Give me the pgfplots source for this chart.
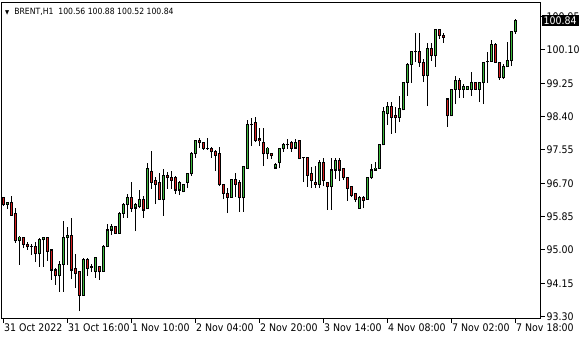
\documentclass[border=0pt]{standalone}
\usepackage{fontspec}
\setmainfont{DejaVu Sans}[FakeStretch=0.9]
\usepackage{pgfplots}
\pgfplotsset{compat=1.18}
\usepackage{pgfplotstable}
\definecolor{bull}{RGB}{60,185,60}
\definecolor{bear}{RGB}{215,30,30}

\pgfplotstableread{
k o h l c
0 96.33 96.35 96.12 96.15
1 96.17 96.23 96.05 96.22
2 96.20 96.38 95.87 95.89
3 95.94 96.07 95.18 95.23
4 95.23 95.36 94.62 95.33
5 95.33 95.34 95.05 95.15
6 95.15 95.20 95.00 95.08
7 95.10 95.15 94.87 95.09
8 95.08 95.20 94.69 94.90
9 94.90 95.31 94.57 95.28
10 95.26 95.33 94.57 95.31
11 95.31 95.33 94.72 94.97
12 95.00 95.01 94.24 94.49
13 94.49 94.54 94.11 94.34
14 94.34 94.72 93.93 94.64
15 94.64 95.74 93.93 95.31
16 95.31 95.59 94.62 95.38
17 95.38 95.82 94.26 94.49
18 94.52 94.90 94.03 94.41
19 94.44 94.45 93.44 93.85
20 93.85 94.80 93.84 94.77
21 94.77 94.80 94.34 94.54
22 94.57 94.64 94.44 94.56
23 94.46 94.82 94.29 94.80
24 94.57 94.58 94.24 94.44
25 94.46 95.13 94.45 95.10
26 95.10 95.66 95.08 95.51
27 95.51 95.66 95.38 95.59
28 95.59 95.60 95.41 95.43
29 95.43 95.97 95.42 95.94
30 95.94 96.20 95.82 96.17
31 96.17 96.43 95.82 96.35
32 96.33 96.73 95.97 96.07
33 96.07 96.20 95.48 96.15
34 96.10 96.53 96.07 96.30
35 96.30 96.38 95.82 96.02
36 96.05 97.22 96.04 97.07
37 97.01 97.52 96.56 96.73
38 96.76 96.86 96.17 96.68
39 96.71 96.96 96.27 96.30
40 96.30 97.07 95.87 96.91
41 96.91 96.99 96.56 96.84
42 96.86 97.01 96.56 96.78
43 96.84 96.89 96.43 96.53
44 96.53 96.76 96.40 96.73
45 96.48 96.68 96.47 96.66
46 96.73 96.96 96.58 96.94
47 96.94 97.50 96.89 97.45
48 97.45 97.81 97.35 97.80
49 97.80 97.86 97.60 97.73
50 97.75 97.76 97.55 97.60
51 97.60 97.86 97.55 97.58
52 97.58 97.63 97.35 97.50
53 97.52 97.55 97.01 97.42
54 97.45 97.63 96.63 96.66
55 96.66 96.67 96.30 96.45
56 96.45 96.58 95.94 96.35
57 96.35 96.82 96.34 96.81
58 96.81 96.96 96.35 96.68
59 96.71 96.78 95.97 96.33
60 96.33 97.14 95.97 97.12
61 97.09 98.31 97.08 98.21
62 98.21 98.37 97.65 98.19
63 98.24 98.39 97.75 97.80
64 97.83 98.11 97.65 97.78
65 97.75 98.11 97.14 97.45
66 97.45 97.63 97.32 97.60
67 97.47 97.48 97.32 97.40
68 97.09 97.22 97.08 97.19
69 97.22 97.60 97.09 97.58
70 97.58 97.73 97.50 97.70
71 97.68 97.83 97.58 97.70
72 97.73 97.78 97.50 97.60
73 97.60 97.83 97.58 97.75
74 97.78 97.79 97.32 97.33
75 97.35 97.37 96.73 97.35
76 97.35 97.37 96.61 96.91
77 96.94 97.12 96.58 96.76
78 96.73 97.14 96.58 96.68
79 96.68 97.30 96.58 97.22
80 97.22 97.35 96.63 96.76
81 96.73 96.74 96.02 96.61
82 96.61 97.35 96.02 97.04
83 97.04 97.35 96.81 97.27
84 97.27 97.35 96.76 97.04
85 97.07 97.08 96.78 96.84
86 96.84 96.85 96.25 96.58
87 96.61 96.63 96.35 96.40
88 96.43 96.45 96.22 96.30
89 96.07 96.38 96.05 96.33
90 96.33 96.38 96.07 96.27
91 96.30 96.87 96.29 96.86
92 96.84 97.19 96.81 97.04
93 97.04 97.24 97.03 97.09
94 97.09 97.69 97.07 97.68
95 97.68 98.65 97.67 98.52
96 98.47 98.77 98.19 98.65
97 98.65 98.77 97.96 98.39
98 98.42 98.65 97.98 98.37
99 98.37 98.93 98.26 98.60
100 98.57 99.29 98.56 99.28
101 99.28 99.77 98.93 99.74
102 99.72 100.07 99.26 100.05
103 100.05 100.53 99.79 100.07
104 100.05 100.53 99.67 99.77
105 99.77 99.87 99.28 99.44
106 99.44 100.28 98.67 100.15
107 100.15 100.28 99.82 99.95
108 99.95 100.64 99.67 100.61
109 100.61 100.64 100.38 100.46
110 100.48 100.53 100.28 100.43
111 98.85 98.86 98.14 98.42
112 98.42 99.11 98.41 99.10
113 99.10 99.44 98.72 99.31
114 99.31 99.39 98.88 99.10
115 99.10 99.23 98.88 99.16
116 99.10 99.19 99.08 99.16
117 99.10 99.54 98.93 99.26
118 99.26 99.29 99.08 99.10
119 99.10 99.27 98.77 99.26
120 99.26 99.80 98.72 99.79
121 99.80 100.05 99.26 99.81
122 99.81 100.36 99.80 100.23
123 100.25 100.28 99.77 99.79
124 99.79 99.80 99.34 99.39
125 99.39 99.74 99.36 99.67
126 99.67 100.30 99.66 99.82
127 99.82 100.57 99.69 100.56
128 100.56 100.88 100.52 100.84
}\candles

% body length without the outline, and a 1/0 flag for rising candles (only abs is used)
\pgfmathdeclarefunction{inner}{2}{\pgfmathparse{(abs(#2-#1)-0.026+abs(abs(#2-#1)-0.026))/2}}
\pgfmathdeclarefunction{rising}{2}{\pgfmathparse{(#2-#1+abs(#2-#1))/(2*abs(#2-#1)+0.000001)}}

\begin{document}
\begin{tikzpicture}[x=1bp,y=1bp]
\useasboundingbox (0,0) rectangle (580,340);
\begin{axis}[
  at={(1.5bp,21.5bp)}, anchor=south west,
  scale only axis, width=539bp, height=316bp,
  xmin=-0.5, xmax=134.25, ymin=93.253, ymax=101.311,
  axis line style={line width=1bp, black},
  clip mode=individual,
  xtick={0,16,...,128},
  xticklabels={31 Oct 2022,31 Oct 16:00,1 Nov 10:00,2 Nov 04:00,2 Nov 20:00,3 Nov 14:00,4 Nov 08:00,7 Nov 02:00,7 Nov 18:00},
  xtick pos=bottom, ytick pos=right, yticklabel pos=right,
  ytick={93.30,94.15,95.00,95.85,96.70,97.55,98.40,99.25,100.10,100.95},
  /pgf/number format/fixed,
  /pgf/number format/fixed zerofill,
  /pgf/number format/precision=2,
  /pgf/number format/1000 sep={},
  /pgf/number format/assume math mode=true,
  tick align=outside, major tick length=4bp,
  tick style={black, line width=1bp},
  ticklabel style={font=\fontsize{10.5}{12}\selectfont},
  xticklabel style={anchor=north west, inner xsep=0.5bp, inner ysep=1.5bp},
  yticklabel style={anchor=west, inner xsep=2bp},
]
% wicks
\addplot[black, line width=1bp, -, quiver={u=0, v=\thisrow{h}-\thisrow{l}}]
  table[x=k, y=l] {\candles};
% body outlines
\addplot[black, line width=3bp, -, quiver={u=0, v={abs(\thisrow{c}-\thisrow{o})+0.026}}]
  table[x=k, y expr={min(\thisrow{o},\thisrow{c})-0.013}] {\candles};
% rising body fills (falling rows pushed outside the clipped axis)
\addplot[bull, line width=1.3bp, -, quiver={u=0, v={inner(\thisrow{o},\thisrow{c})}}]
  table[x=k, y expr={min(\thisrow{o},\thisrow{c})+0.013+100*(1-rising(\thisrow{o},\thisrow{c}))}] {\candles};
% falling body fills
\addplot[bear, line width=1.3bp, -, quiver={u=0, v={inner(\thisrow{o},\thisrow{c})}}]
  table[x=k, y expr={min(\thisrow{o},\thisrow{c})+0.013+100*rising(\thisrow{o},\thisrow{c})}] {\candles};
\coordinate (pbox) at (axis cs:134.25,100.84);
\end{axis}
\node[fill=black, text=white, anchor=west, inner xsep=2bp, inner ysep=1.5bp,
  minimum height=11bp, font=\fontsize{10.5}{12}\selectfont] at ([xshift=1bp]pbox) {100.84};
\node[anchor=west, inner sep=0pt, font=\fontsize{8.6}{10}\selectfont] at (5bp,328.5bp)
  {{\fontsize{6}{7}\selectfont ▼}\hspace{5bp}BRENT,H1\ \ 100.56 100.88 100.52 100.84};
\end{tikzpicture}
\end{document}
